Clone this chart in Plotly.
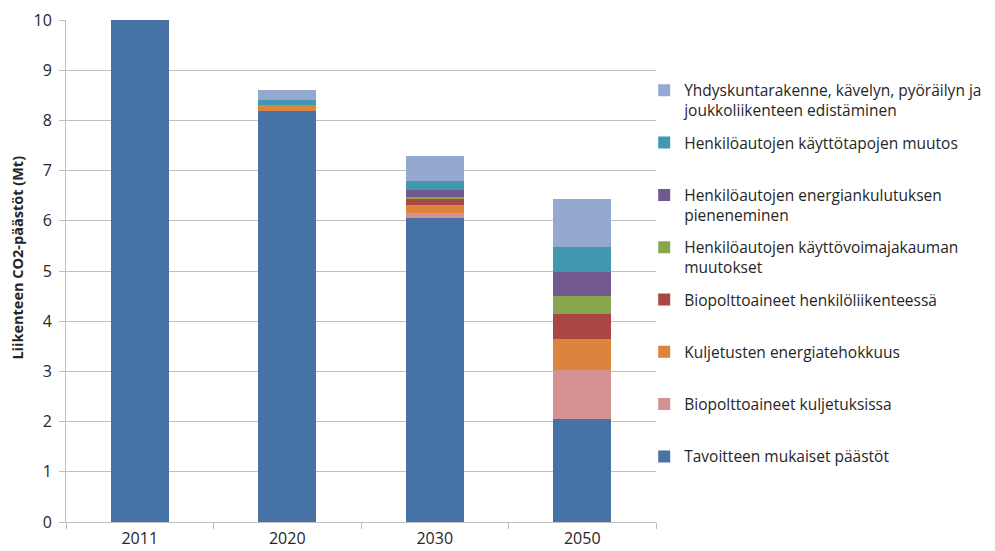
import plotly.graph_objects as go

years = ["2011", "2020", "2030", "2050"]

# Stack order bottom -> top
tavoite = [10.0, 8.19, 6.05, 2.05]
bio_kulj = [0.0, 0.0, 0.11, 0.98]
kulj_energia = [0.0, 0.12, 0.15, 0.62]
bio_henk = [0.0, 0.0, 0.12, 0.50]
kayttovoima = [0.0, 0.0, 0.04, 0.36]
energiankulutus = [0.0, 0.0, 0.14, 0.47]
kayttotavat = [0.0, 0.09, 0.18, 0.49]
yhdyskunta = [0.0, 0.21, 0.50, 0.96]

series = [
    ("Tavoitteen mukaiset päästöt", tavoite, "#4672A6"),
    ("Biopolttoaineet kuljetuksissa", bio_kulj, "#D49291"),
    ("Kuljetusten energiatehokkuus", kulj_energia, "#DB843D"),
    ("Biopolttoaineet henkilöliikenteessä", bio_henk, "#AA4643"),
    ("Henkilöautojen käyttövoimajakauman<br>muutokset", kayttovoima, "#89A54E"),
    ("Henkilöautojen energiankulutuksen<br>pieneneminen", energiankulutus, "#71588F"),
    ("Henkilöautojen käyttötapojen muutos", kayttotavat, "#4198AF"),
    ("Yhdyskuntarakenne, kävelyn, pyöräilyn ja<br>joukkoliikenteen edistäminen", yhdyskunta, "#93A9CF"),
]

fig = go.Figure()
for i, (name, vals, color) in enumerate(series):
    label = name if "<br>" in name else name + "<br>\u00a0"
    fig.add_trace(go.Bar(
        x=years, y=vals, name=label, marker=dict(color=color, line=dict(width=0)),
        legendgroup=f"g{i}", legendrank=100 - i,
    ))

fig.add_annotation(
    text="<b>Liikenteen CO2-päästöt (Mt)</b>", textangle=-90,
    xref="paper", yref="paper", x=-0.082, y=0.526, xanchor="center", yanchor="middle",
    showarrow=False, font=dict(size=14.5, color="#262626"),
)

fig.update_layout(
    width=995, height=551,
    margin=dict(l=66, r=339, t=20, b=29, autoexpand=False),
    barmode="stack", bargap=0.61,
    plot_bgcolor="white", paper_bgcolor="white",
    font=dict(family="Open Sans", size=16, color="#262626"),
    legend=dict(
        x=0.98, xanchor="left", y=0.893, yanchor="top",
        traceorder="grouped", tracegroupgap=9,
        valign="top", font=dict(size=15.5, color="#262626"),
        bgcolor="rgba(0,0,0,0)",
    ),
    xaxis=dict(
        type="category", showgrid=False, showline=True, linecolor="#BFBFBF", linewidth=1,
        ticks="outside", tickson="boundaries", ticklen=6, tickcolor="#BFBFBF",
        tickfont=dict(size=16), automargin=False, ticklabelstandoff=2,
    ),
    yaxis=dict(
        range=[0, 10], dtick=1, showgrid=True, gridcolor="#BFBFBF", gridwidth=1,
        showline=True, linecolor="#BFBFBF", linewidth=1, ticks="outside", ticklen=6,
        tickcolor="#BFBFBF", tickfont=dict(size=16), zeroline=False, automargin=False,
        ticklabelstandoff=4,
    ),
)

fig.write_html("out.html")
